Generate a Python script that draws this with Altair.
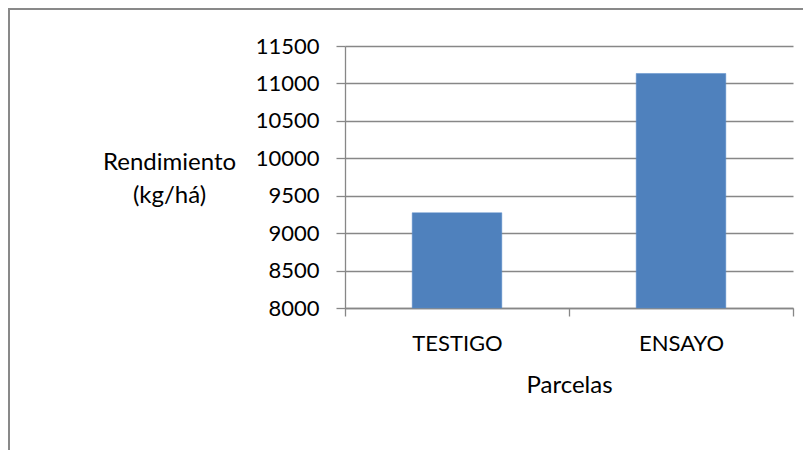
import altair as alt
import pandas as pd

categories = ["TESTIGO", "ENSAYO"]
values = [9272, 11133]
y_ticks = [8000, 8500, 9000, 9500, 10000, 10500, 11000, 11500]

df = pd.DataFrame({"Parcela": categories, "Rendimiento": values})
frame_df = pd.DataFrame({"k": [0]})

FONT = "Lato"
GRAY = "#878787"

bars = alt.Chart(df).mark_bar(
    color="#4F81BD", width=alt.RelativeBandSize(0.4), stroke="#5B8CCB", strokeWidth=0.5
).encode(
    x=alt.X(
        "Parcela:N",
        sort=categories,
        scale=alt.Scale(paddingInner=0, paddingOuter=0),
        axis=alt.Axis(
            title="Parcelas",
            labelAngle=0,
            tickBand="extent",
            tickSize=8,
            tickColor=GRAY,
            domainColor=GRAY,
            labelPadding=17,
            labelBaseline="top",
            titleBaseline="alphabetic",
            titleY=84,
            titleX=224,
            grid=False,
        ),
    ),
    y=alt.Y(
        "Rendimiento:Q",
        scale=alt.Scale(domain=[8000, 11500], zero=False, nice=False),
        axis=alt.Axis(
            title=["Rendimiento", "(kg/há)"],
            values=y_ticks,
            format="d",
            tickSize=9,
            tickColor=GRAY,
            domainColor=GRAY,
            gridColor=GRAY,
            labelPadding=17,
            titleAngle=0,
            titleAlign="center",
            titleBaseline="middle",
            titleX=-176,
            titleY=116,
            titleLineHeight=33,
        ),
    ),
    y2=alt.datum(8000),
)

frame = alt.Chart(frame_df).mark_rect(
    filled=False, stroke="#898989", strokeWidth=2
).encode(
    x=alt.value(-336),
    x2=alt.value(700),
    y=alt.value(-37),
    y2=alt.value(600),
)

chart = alt.layer(bars, frame).properties(
    width=448,
    height=262,
    padding={"left": 337, "top": 38, "right": 10, "bottom": 142},
    autosize=alt.AutoSizeParams(type="none"),
    background="white",
).configure_view(
    stroke=None
).configure_axis(
    labelFont=FONT,
    titleFont=FONT,
    labelFontSize=22,
    titleFontSize=24,
    labelColor="#000000",
    titleColor="#000000",
    titleFontWeight="normal",
    domainWidth=1.3,
    gridWidth=1.3,
    tickWidth=1.3,
)

chart.save("out.html", embed_options={"renderer": "svg", "actions": False})
